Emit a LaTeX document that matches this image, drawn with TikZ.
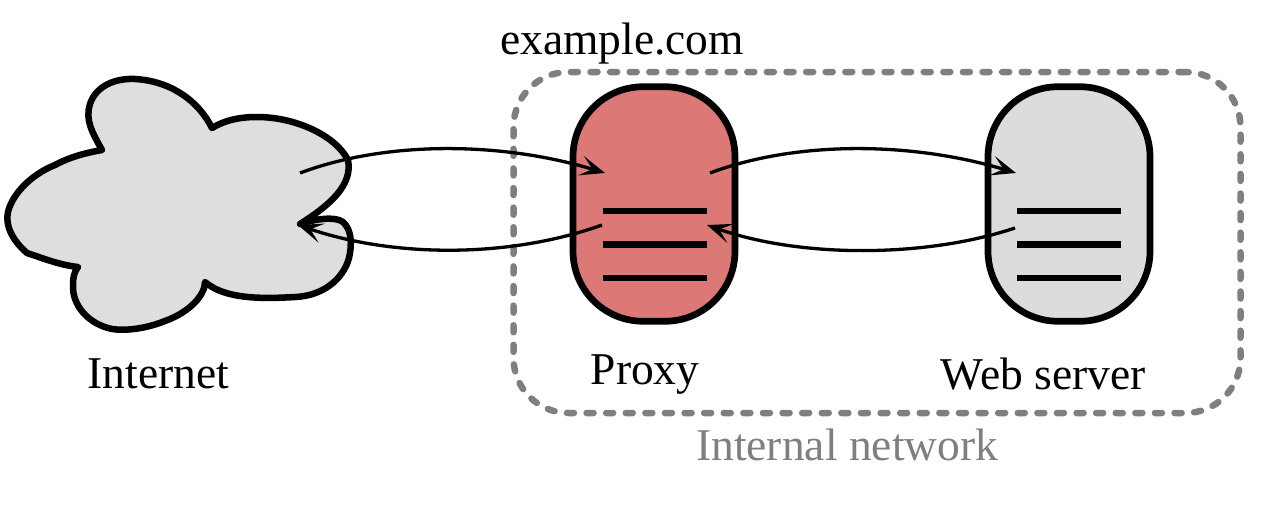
\documentclass[tikz,border=0pt]{standalone}
\usepackage{fontspec}
\setmainfont{Liberation Serif}
\usetikzlibrary{arrows.meta}
\definecolor{cloudfill}{HTML}{DEDEE0}
\definecolor{proxyfill}{HTML}{DC7876}
\definecolor{webfill}{HTML}{DCDCDC}
\definecolor{netgray}{HTML}{7F7F7F}
\tikzset{
  server/.style={draw=black,line width=6.7pt,rounded corners=70pt,minimum width=162pt,minimum height=234.5pt,inner sep=0pt},
  barline/.style={line width=6.5pt},
  flow/.style={line width=3.3pt,-{Stealth[length=25pt,width=20pt,inset=12pt]}},
  label/.style={font=\fontsize{45.5}{50}\selectfont,anchor=base west,inner sep=0pt},
  netbox/.style={draw=netgray,line width=6.5pt,rounded corners=55pt,line cap=round,dash pattern=on 7pt off 12.6pt,minimum width=727pt,minimum height=341pt,inner sep=0pt},
}
\begin{document}
\begin{tikzpicture}[x=1pt,y=-1pt]
\useasboundingbox (0,0) rectangle (1270,504);
% cloud
\filldraw[fill=cloudfill,draw=black,line width=6.5pt,line join=round]
  (102,150) .. controls (92,132) and (85,120) .. (90,104)
  .. controls (96,86) and (115,78) .. (135,79)
  .. controls (170,81) and (198,100) .. (212,128)
  .. controls (225,120) and (240,117) .. (257,117)
  .. controls (295,117) and (335,135) .. (348,160)
  .. controls (353,185) and (330,205) .. (300,224)
  .. controls (315,219) and (335,216) .. (343,222)
  .. controls (352,230) and (352,245) .. (349,258)
  .. controls (343,280) and (322,296) .. (295,297)
  .. controls (260,299) and (225,299) .. (205,282)
  .. controls (205,295) and (190,312) .. (165,321)
  .. controls (145,329) and (125,331) .. (112,329)
  .. controls (88,324) and (72,305) .. (73,285)
  .. controls (73,278) and (74,272) .. (78,267)
  .. controls (60,265) and (45,259) .. (27,253)
  .. controls (12,240) and (5,225) .. (8,212)
  .. controls (12,195) and (30,175) .. (55,165)
  .. controls (70,157) and (85,153) .. (102,150) -- cycle;
% boxes
\node[server,fill=proxyfill] (proxy) at (654,204) {};
\node[server,fill=webfill] (web) at (1069,204) {};
\node[netbox] (net) at (877,242.5) {};
% bars
\coordinate (pa1) at (603,211); \coordinate (pb1) at (707,211);
\coordinate (pa2) at (603,244.5); \coordinate (pb2) at (707,244.5);
\coordinate (pa3) at (603,278); \coordinate (pb3) at (707,278);
\coordinate (wa1) at (1017,211); \coordinate (wb1) at (1121,211);
\coordinate (wa2) at (1017,244.5); \coordinate (wb2) at (1121,244.5);
\coordinate (wa3) at (1017,278); \coordinate (wb3) at (1121,278);
\draw[barline] (pa1)--(pb1) (pa2)--(pb2) (pa3)--(pb3);
\draw[barline] (wa1)--(wb1) (wa2)--(wb2) (wa3)--(wb3);
% connector ends
\coordinate (c1) at (300,173); \coordinate (p1) at (605,173);
\coordinate (p2) at (710,173); \coordinate (w1) at (1016,173);
\coordinate (w2) at (1015,228); \coordinate (p3) at (707,225);
\coordinate (p4) at (602,225); \coordinate (c2) at (298,225);
\draw[flow] (c1) .. controls (385,141) and (500,141) .. (p1);
\draw[flow] (p2) .. controls (795,141) and (910,141) .. (w1);
\draw[flow] (w2) .. controls (925,258) and (800,258) .. (p3);
\draw[flow] (p4) .. controls (510,258) and (395,258) .. (c2);
% labels
\node[label] (lex) at (500,54) {example.com};
\node[label] (lin) at (87.5,388) {Internet};
\node[label] (lpr) at (590.5,384) {Proxy};
\node[label] (lwe) at (940.5,389) {Web server};
\node[label,text=netgray] (lnet) at (696,460) {Internal network};
\end{tikzpicture}
\end{document}
